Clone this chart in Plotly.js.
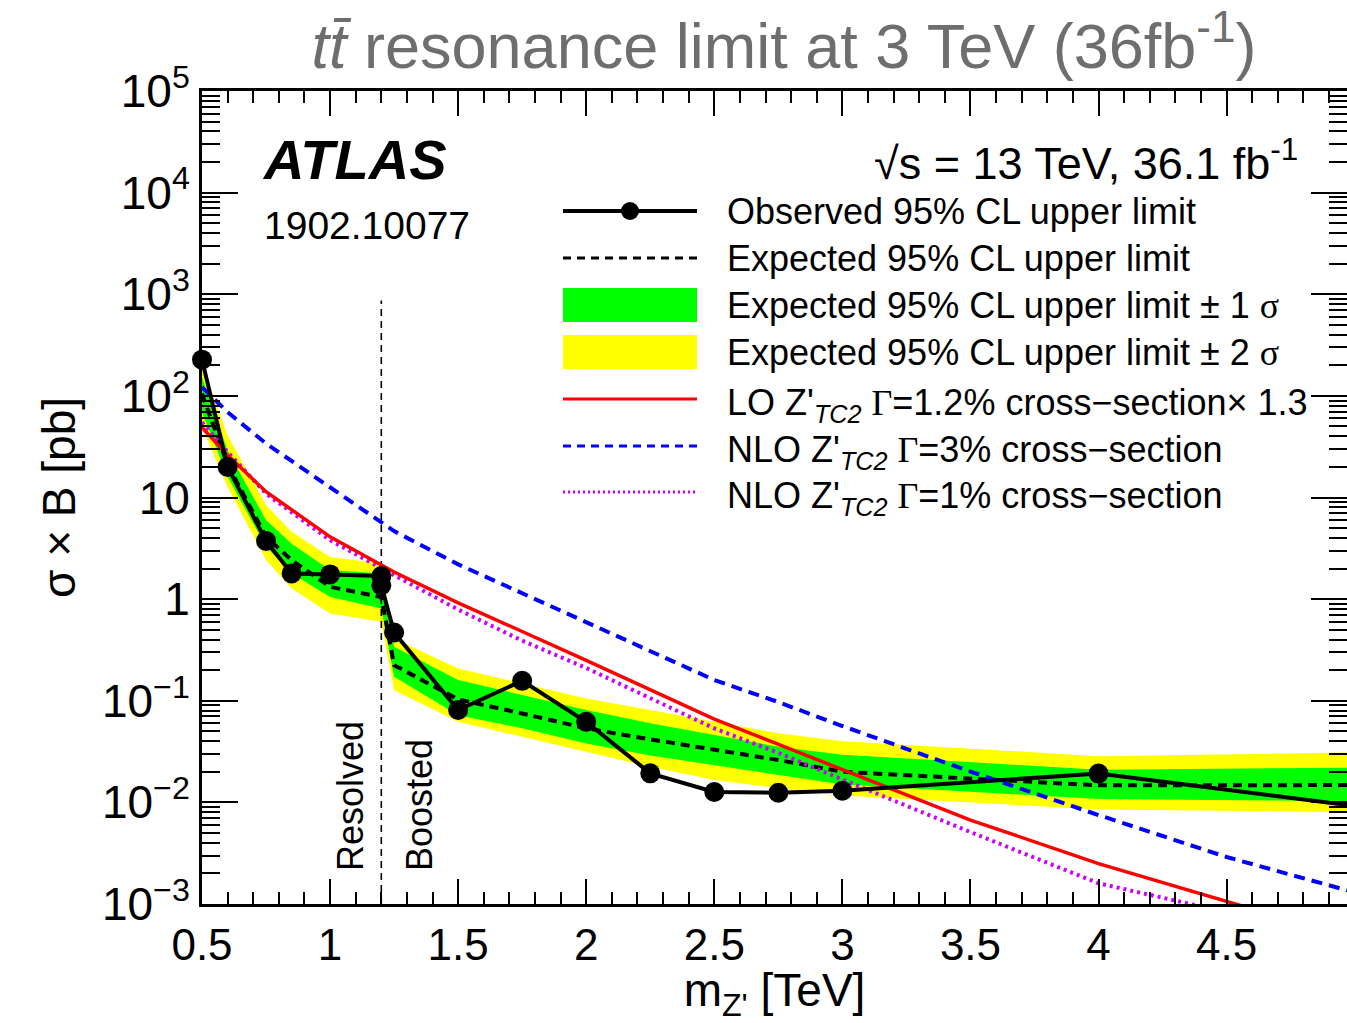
<!DOCTYPE html>
<html>
<head>
<meta charset="utf-8">
<script src="https://cdn.plot.ly/plotly-3.0.1.min.js"></script>
<style>
html,body{margin:0;padding:0;background:#fff;}
#chart{width:1347px;height:1023px;}
</style>
</head>
<body>
<div id="chart"></div>
<script>
// ---------------- data ----------------
const massObs = [0.5, 0.6, 0.75, 0.85, 1.0, 1.2, 1.2, 1.25, 1.5, 1.75, 2.0, 2.25, 2.5, 2.75, 3.0, 4.0, 5.0];
const observed = [227, 20, 3.74, 1.79, 1.75, 1.69, 1.37, 0.47, 0.081, 0.157, 0.062, 0.0193, 0.01265, 0.01245, 0.0130, 0.0192, 0.0092];

const massExp = [0.5, 0.6, 0.75, 0.85, 1.0, 1.2, 1.25, 1.5, 1.75, 2.0, 2.25, 2.5, 2.75, 3.0, 4.0, 5.0];
const expected = [105, 21, 4.1, 2.42, 1.32, 1.05, 0.224, 0.103, 0.075, 0.0535, 0.0417, 0.0327, 0.0261, 0.0200, 0.0147, 0.0148];
const plus1 = [153, 29, 6.0, 3.5, 1.93, 1.79, 0.34, 0.16, 0.114, 0.081, 0.060, 0.046, 0.0353, 0.0295, 0.0210, 0.0220];
const minus1 = [69, 16, 3.27, 1.79, 1.05, 0.81, 0.172, 0.072, 0.0535, 0.038, 0.029, 0.0233, 0.0186, 0.0150, 0.0108, 0.0103];
const plus2 = [200, 41, 8.4, 4.6, 2.6, 2.24, 0.41, 0.208, 0.148, 0.105, 0.081, 0.062, 0.0478, 0.040, 0.0285, 0.031];
const minus2 = [49, 12.7, 2.42, 1.27, 0.72, 0.60, 0.127, 0.062, 0.044, 0.0316, 0.0224, 0.0166, 0.0138, 0.0117, 0.0085, 0.0080];

const massTheory = [0.5, 0.6, 0.75, 1.0, 1.25, 1.5, 1.75, 2.0, 2.5, 2.75, 3.0, 3.5, 4.0, 4.5, 5.0];
const loTC2w12 = [49, 26, 11.4, 4.1, 1.85, 0.92, 0.48, 0.25, 0.066, 0.0373, 0.021, 0.0067, 0.0025, 0.00107, 0.00045];
const nloTC2w3 = [122, 69, 34, 12.7, 4.67, 2.2, 1.14, 0.60, 0.16, 0.097, 0.0564, 0.0201, 0.0075, 0.0029, 0.0013];
const nloTC2w1 = [55, 28, 10.9, 3.8, 1.72, 0.79, 0.39, 0.21, 0.0535, 0.0307, 0.0168, 0.0051, 0.0016, 0.00083, 0.0003];

const boundaryMass = [1.2, 1.2];
const boundaryY = [0.001, 870];

const yTickVals = [1e-3, 1e-2, 1e-1, 1, 10, 1e2, 1e3, 1e4, 1e5];
const yTickText = ['10<sup>\u22123</sup>', '10<sup>\u22122</sup>', '10<sup>\u22121</sup>', '1', '10', '10<sup>2</sup>', '10<sup>3</sup>', '10<sup>4</sup>', '10<sup>5</sup>'];

// ---------------- geometry helpers ----------------
const W = 1347, H = 1023;
const PL = 202, PR = 1347, PT = 91, PB = 904;
const px = x => (x - PL) / (PR - PL);
const py = y => (PB - y) / (PB - PT);
const FONT = 'Liberation Sans, Arial, Helvetica, sans-serif';
const SERIF = 'Liberation Serif, Times New Roman, serif';

function band(xs, up, lo, color, name) {
  return {
    x: xs.concat(xs.slice().reverse()),
    y: up.concat(lo.slice().reverse()),
    type: 'scatter', mode: 'lines', fill: 'toself',
    fillcolor: color, line: {width: 0, color: color},
    hoverinfo: 'skip', showlegend: false, name: name
  };
}

const traces = [
  band(massExp, plus2, minus2, '#ffff00', '±2σ'),
  band(massExp, plus1, minus1, '#00ff00', '±1σ'),
  {x: massExp, y: expected, type: 'scatter', mode: 'lines',
   line: {color: '#000', width: 4, dash: '9px,6px'}, showlegend: false, name: 'Expected'},
  {x: boundaryMass, y: boundaryY, type: 'scatter', mode: 'lines',
   line: {color: '#000', width: 1.6, dash: '7px,5px'}, showlegend: false, hoverinfo: 'skip'},
  {x: massTheory, y: nloTC2w3, type: 'scatter', mode: 'lines',
   line: {color: '#0000ff', width: 4, dash: '11px,7px'}, showlegend: false, name: 'NLO 3%'},
  {x: massTheory, y: nloTC2w1, type: 'scatter', mode: 'lines',
   line: {color: '#cc00ff', width: 4, dash: '3px,4px'}, showlegend: false, name: 'NLO 1%'},
  {x: massTheory, y: loTC2w12, type: 'scatter', mode: 'lines',
   line: {color: '#ff0000', width: 3.5}, showlegend: false, name: 'LO 1.2%'},
  {x: massObs, y: observed, type: 'scatter', mode: 'lines+markers',
   line: {color: '#000', width: 4}, marker: {color: '#000', size: 20},
   cliponaxis: false, showlegend: false, name: 'Observed'}
];

// ---------------- custom legend ----------------
const legX0 = 563, legX1 = 697, legTextX = 725;
const rows = [211, 258, 305, 352, 399, 446, 492];
const shapes = [
  {type: 'line', xref: 'paper', yref: 'paper', x0: px(legX0), x1: px(legX1), y0: py(rows[0]), y1: py(rows[0]), line: {color: '#000', width: 4}},
  {type: 'circle', xref: 'paper', yref: 'paper', x0: px(630 - 9), x1: px(630 + 9), y0: py(rows[0] + 9), y1: py(rows[0] - 9), fillcolor: '#000', line: {color: '#000', width: 0}},
  {type: 'line', xref: 'paper', yref: 'paper', x0: px(legX0), x1: px(legX1), y0: py(rows[1]), y1: py(rows[1]), line: {color: '#000', width: 3, dash: '8px,6px'}},
  {type: 'rect', xref: 'paper', yref: 'paper', x0: px(legX0), x1: px(legX1), y0: py(rows[2] + 17), y1: py(rows[2] - 17), fillcolor: '#00ff00', line: {width: 0}},
  {type: 'rect', xref: 'paper', yref: 'paper', x0: px(legX0), x1: px(legX1), y0: py(rows[3] + 17), y1: py(rows[3] - 17), fillcolor: '#ffff00', line: {width: 0}},
  {type: 'line', xref: 'paper', yref: 'paper', x0: px(legX0), x1: px(legX1), y0: py(rows[4]), y1: py(rows[4]), line: {color: '#ff0000', width: 3}},
  {type: 'line', xref: 'paper', yref: 'paper', x0: px(legX0), x1: px(legX1), y0: py(rows[5]), y1: py(rows[5]), line: {color: '#0000ff', width: 3, dash: '8px,6px'}},
  {type: 'line', xref: 'paper', yref: 'paper', x0: px(legX0), x1: px(legX1), y0: py(rows[6]), y1: py(rows[6]), line: {color: '#cc00ff', width: 3, dash: '2px,3px'}}
];

const G = '<span style="font-family:' + SERIF + '">\u0393</span>';
const SIG = '<span style="font-family:' + SERIF + '">\u03c3</span>';
const ZP = "Z'<sub><i>TC2</i></sub>";
const legTexts = [
  'Observed 95% CL upper limit',
  'Expected 95% CL upper limit',
  'Expected 95% CL upper limit \u00b1 1 ' + SIG,
  'Expected 95% CL upper limit \u00b1 2 ' + SIG,
  'LO ' + ZP + ' ' + G + '=1.2% cross\u2212section\u00d7 1.3',
  'NLO ' + ZP + ' ' + G + '=3% cross\u2212section',
  'NLO ' + ZP + ' ' + G + '=1% cross\u2212section'
];
const legFont = {family: FONT, size: 36, color: '#000'};
const annotations = legTexts.map((t, i) => ({
  text: t, xref: 'paper', yref: 'paper', x: px(legTextX), y: py(rows[i] + (i >= 4 ? 6 : 0)),
  xanchor: 'left', yanchor: 'middle', showarrow: false, font: legFont
}));

annotations.push(
  {text: '<b><i>ATLAS</i></b>', xref: 'paper', yref: 'paper', x: px(260), y: py(160), xanchor: 'left', yanchor: 'middle', showarrow: false, font: {family: FONT, size: 56, color: '#000'}},
  {text: '1902.10077', xref: 'paper', yref: 'paper', x: px(262), y: py(225), xanchor: 'left', yanchor: 'middle', showarrow: false, font: {family: FONT, size: 39, color: '#000'}},
  {text: '\u221as = 13 TeV, 36.1 fb<sup>-1</sup>', xref: 'paper', yref: 'paper', x: px(1300), y: py(160), xanchor: 'right', yanchor: 'middle', showarrow: false, font: {family: FONT, size: 45, color: '#000'}},
  {text: 'Resolved', xref: 'paper', yref: 'paper', x: px(350), y: py(873), xanchor: 'center', yanchor: 'bottom', textangle: -90, showarrow: false, font: {family: FONT, size: 36, color: '#000'}},
  {text: 'Boosted', xref: 'paper', yref: 'paper', x: px(419), y: py(873), xanchor: 'center', yanchor: 'bottom', textangle: -90, showarrow: false, font: {family: FONT, size: 36, color: '#000'}}
);

const layout = {
  width: W, height: H,
  margin: {l: PL, r: W - PR, t: PT, b: H - PB},
  paper_bgcolor: '#fff', plot_bgcolor: '#fff',
  font: {family: FONT, color: '#000'},
  showlegend: false,
  title: {
    text: '<i>tt\u0304</i> resonance limit at 3 TeV (36fb<sup>-1</sup>)',
    font: {family: FONT, size: 63, color: '#6e6e6e'},
    xref: 'paper', x: px(784), xanchor: 'center',
    yref: 'container', y: 1 - 46 / H, yanchor: 'middle'
  },
  xaxis: {
    range: [0.5, 4.97], tickmode: 'linear', tick0: 0.5, dtick: 0.5,
    ticks: 'inside', ticklen: 25, tickwidth: 2, tickcolor: '#000',
    minor: {ticks: 'inside', ticklen: 12, tickwidth: 2, tickcolor: '#000', dtick: 0.1, tick0: 0.5, showgrid: false},
    showline: true, linewidth: 3, linecolor: '#000', mirror: 'ticks',
    showgrid: false, zeroline: false,
    tickfont: {family: FONT, size: 44, color: '#000'},
    title: {text: "m<sub>Z'</sub> [TeV]", font: {family: FONT, size: 46, color: '#000'}, standoff: 6}
  },
  yaxis: {
    type: 'log', range: [-3, 5],
    tickmode: 'array', tickvals: yTickVals, ticktext: yTickText,
    ticks: 'inside', ticklen: 36, tickwidth: 2, tickcolor: '#000',
    minor: {ticks: 'inside', ticklen: 18, tickwidth: 2, tickcolor: '#000', dtick: 'D1', showgrid: false},
    showline: true, linewidth: 3, linecolor: '#000', mirror: 'ticks',
    showgrid: false, zeroline: false,
    tickfont: {family: FONT, size: 46, color: '#000'},
    title: {text: '\u03c3 \u00d7 B [pb]', font: {family: FONT, size: 46, color: '#000'}, standoff: 12}
  },
  shapes: shapes,
  annotations: annotations
};

Plotly.newPlot('chart', traces, layout, {displayModeBar: false, staticPlot: true});
</script>
</body>
</html>
